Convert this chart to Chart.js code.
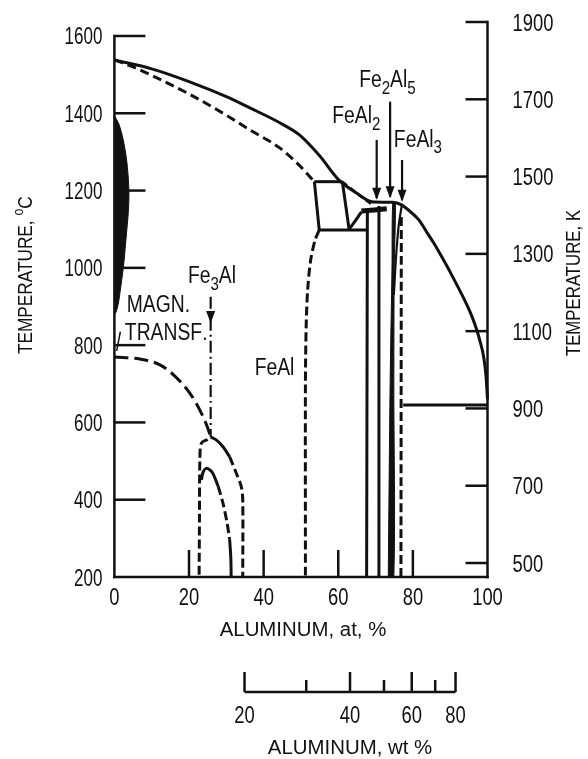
<!DOCTYPE html>
<html><head><meta charset="utf-8">
<script src="https://cdn.jsdelivr.net/npm/chart.js@4.4.0/dist/chart.umd.min.js"></script>
<style>html,body{margin:0;padding:0;background:#fff;}#wrap{width:588px;height:759px;}</style>
</head><body><div id="wrap"><canvas id="c" width="588" height="759"></canvas></div>
<script>
// ---------- tick values ----------
const xTicksAt = [0, 20, 40, 60, 80, 100];          // at.% Al
const yTicksC  = [200, 400, 600, 800, 1000, 1200, 1400, 1600]; // deg C
const yTicksK  = [500, 700, 900, 1100, 1300, 1500, 1700, 1900]; // K
const wtTicks  = [20, 30, 40, 50, 60, 70, 80];       // wt.% Al (log scale)
const wtLabels = [20, 40, 60, 80];

// ---------- phase boundaries: [at.% Al, deg C] ----------
const liquidus = [[0,1538],[10,1515],[20,1482],[30,1443],[36.3,1414],[44.2,1376],[49.6,1344],[55,1290],[60.2,1227],[65,1193],[69,1171],[72,1170],[74.5,1170],[77,1163],[79,1148],[81.6,1124],[84,1088],[86,1058],[88,1024],[90,989],[92,952],[94,914],[95,893],[96,870],[97,843],[98,810],[99,768],[99.6,720],[100,660]];
const solidus = [[0,1538],[5,1520],[10,1498],[20,1450],[30,1395],[36.3,1357],[44.2,1311],[49.6,1265],[53.6,1223]];
const boxTop = [[53.6,1223],[61.1,1223]];
const boxLeft = [[53.6,1223],[54.9,1098]];
const boxBottom = [[54.9,1098],[67.6,1098]];
const boxRight = [[61.1,1223],[62.9,1100]];
const eutectoidDiag = [[62.9,1100],[64.6,1122],[66.2,1145]];
const peritectic = [[66.2,1147],[73,1153]];
const epsSolidus = [[61.1,1223],[63.5,1205],[66,1185],[69.6,1160]];
const feAlBoundary = [[54.9,1098],[53.8,1072],[52.6,1020],[51.8,943],[51.4,850],[51.2,700],[51.2,200]];
const feAl2Line = [[67.6,200],[67.8,1147]];
const fe2Al5Line = [[70.9,200],[70.9,1160]];
const feAl3Band = [[73.4,200],[73.9,700],[74.4,1000],[74.6,1167],[75.3,1166],[75.0,1000],[74.9,700],[74.9,200],[73.4,200]];
const feAl3Edge = [[74.9,930],[75.5,1030],[76.2,1110],[77.0,1160]];
const alSideDashed = [[76.8,200],[76.9,1135]];
const alEutectic = [[77.4,645],[100,645]];
const gammaLoop = [[0,1394],[1.2,1372],[2.3,1334],[3.2,1285],[3.7,1235],[3.9,1190],[3.7,1140],[3.2,1085],[2.5,1010],[1.7,950],[1.0,905],[0.4,885],[0,880],[0,1394]];
const gammaInner = [[0.6,1360],[1.3,1300],[1.7,1200],[1.5,1100],[1.0,1000]];
const magnLine = [[0,769],[6.8,764],[12.2,749],[16.2,720],[20.2,676],[22.9,632],[25,586],[25.8,562]];
const d03Solid = [[25.8,562],[27.3,555],[29.1,537],[30.9,511]];
const d03Dashed = [[30.9,511],[32.7,468],[34.0,434],[34.4,399],[34.4,200]];
const d03Left = [[25.0,556],[23.3,546],[22.9,500],[22.8,350],[22.7,200]];
const archSolid = [[23.3,451],[23.8,472],[24.6,481],[25.6,477],[26.4,468],[27.8,435]];
const archDashed = [[27.8,435],[29.1,391],[30.2,340],[30.9,296]];
const archLow = [[30.9,296],[31.2,250],[31.3,200]];
const fe3AlPointer = [[25.8,925],[25.8,562]];
const feAl2Pointer = [[70.3,1331],[70.3,1180]];
const fe2Al5Pointer = [[73.9,1430],[73.9,1184]];
const feAl3Pointer = [[77.1,1279],[77.1,1175]];

// arrow heads: [at.%, tip deg C]
const arrowHeads = [[25.8,857],[70.3,1176],[73.9,1180],[77.1,1171]];

// annotation labels ('_' = next char subscript), anchors in [at.%, deg C]
const labelText = ['MAGN.', 'TRANSF.', 'Fe_3Al', 'FeAl', 'FeAl_2', 'Fe_2Al_5', 'FeAl_3'];
const labelAnchor = [[3.3,886],[2.8,813],[19.7,960],[37.6,723],[58.4,1375],[65.6,1469],[74.9,1314]];

// ---------- styles ----------
const FAM = '"Liberation Sans",Arial,sans-serif';
const INK = '#111';
const ST = {
  solid:   {borderWidth: 3},
  curve:   {borderWidth: 3, cubicInterpolationMode: 'monotone'},
  thin:    {borderWidth: 2.2},
  thick:   {borderWidth: 5},
  dashed:  {borderWidth: 3, borderDash: [9, 4]},
  dashC:   {borderWidth: 3, borderDash: [9, 5], cubicInterpolationMode: 'monotone'},
  dashS:   {borderWidth: 2.5, borderDash: [6, 4]},
  dashL:   {borderWidth: 3, borderDash: [14, 6], cubicInterpolationMode: 'monotone'},
  dashDot: {borderWidth: 2.2, borderDash: [12, 4, 2, 4]},
  fillShape: {borderWidth: 1, fill: 'shape', backgroundColor: INK},
  white:   {borderWidth: 1.5, borderDash: [5, 4], borderColor: '#fff'}
};
const series = [
  [gammaLoop,'fillShape'],[gammaInner,'white'],
  [liquidus,'curve'],[solidus,'dashC'],
  [boxTop,'solid'],[boxLeft,'solid'],[boxBottom,'solid'],[boxRight,'solid'],
  [eutectoidDiag,'solid'],[peritectic,'thick'],[epsSolidus,'dashS'],
  [feAlBoundary,'dashed'],[feAl2Line,'solid'],[fe2Al5Line,'solid'],
  [feAl3Band,'fillShape'],[feAl3Edge,'thin'],[alSideDashed,'dashed'],[alEutectic,'solid'],
  [magnLine,'dashL'],[d03Solid,'solid'],[d03Dashed,'dashed'],[d03Left,'dashed'],
  [archSolid,'solid'],[archDashed,'dashed'],[archLow,'solid'],
  [fe3AlPointer,'dashDot'],[feAl2Pointer,'thin'],[fe2Al5Pointer,'thin'],[feAl3Pointer,'thin']
];
const datasets = series.map(([pts, st]) => Object.assign({
  data: pts.map(p => ({x: p[0], y: p[1]})),
  showLine: true, pointRadius: 0, borderColor: INK, backgroundColor: INK,
  fill: false, tension: 0.3, clip: false, xAxisID: 'x', yAxisID: 'y'
}, ST[st]));

// draw text horizontally condensed (scan font is narrow)
function txt(ctx, s, x, y, size, align, sx) {
  ctx.save(); ctx.translate(x, y); ctx.scale(sx, 1);
  ctx.font = size + 'px ' + FAM; ctx.textAlign = align; ctx.textBaseline = 'alphabetic';
  ctx.fillText(s, 0, 0); ctx.restore();
}

const decor = {
  id: 'decor',
  afterDraw(chart) {
    const ctx = chart.ctx, xs = chart.scales.x, ys = chart.scales.y, ks = chart.scales.yK, ws = chart.scales.wt;
    const px = v => xs.getPixelForValue(v), py = v => ys.getPixelForValue(v), pk = v => ks.getPixelForValue(v);
    const L = px(0), R = px(100), B = py(200);
    ctx.save();
    ctx.strokeStyle = INK; ctx.fillStyle = INK; ctx.lineWidth = 2.5; ctx.lineCap = 'square';
    const seg = (x1,y1,x2,y2) => { ctx.beginPath(); ctx.moveTo(x1,y1); ctx.lineTo(x2,y2); ctx.stroke(); };
    // axes frame
    seg(L, py(yTicksC[yTicksC.length-1]), L, B);
    seg(L, B, R, B);
    seg(R, pk(yTicksK[yTicksK.length-1]), R, B);
    ctx.lineCap = 'butt';
    yTicksC.slice(1).forEach(v => seg(L, py(v), L + 31, py(v)));
    yTicksK.forEach(v => seg(R - 22, pk(v), R, pk(v)));
    xTicksAt.filter(v => v > 0 && v < 100).forEach(v => seg(px(v), B, px(v), B - 27));
    // tick labels
    yTicksC.forEach(v => txt(ctx, String(v), L - 12, py(v) + 8.5, 23, 'right', 0.74));
    yTicksK.forEach(v => txt(ctx, String(v), R + 25, pk(v) + 8.5, 23, 'left', 0.8));
    xTicksAt.forEach(v => txt(ctx, String(v), px(v), B + 28, 23, 'center', 0.8));
    // arrow heads
    arrowHeads.forEach(([a, t]) => {
      const x = px(a), y = py(t);
      ctx.beginPath(); ctx.moveTo(x, y); ctx.lineTo(x - 4.5, y - 12); ctx.lineTo(x + 4.5, y - 12); ctx.closePath(); ctx.fill();
    });
    // small magnetic-transformation pointer
    ctx.lineWidth = 1.5;
    seg(px(1.6), py(835), px(0.6), py(785));
    // annotation labels
    const chem = (str, x, y, size) => {
      let cx = x;
      for (let i = 0; i < str.length; i++) {
        let ch = str[i], sub = false;
        if (ch === '_') { sub = true; ch = str[++i]; }
        const s = sub ? Math.round(size * 0.78) : size;
        ctx.font = s + 'px ' + FAM;
        const w = ctx.measureText(ch).width * 0.84;
        txt(ctx, ch, cx, sub ? y + size * 0.3 : y, s, 'left', 0.84);
        cx += w;
      }
    };
    labelText.forEach((t, i) => chem(t, px(labelAnchor[i][0]), py(labelAnchor[i][1]), 23));
    // bottom axis title
    txt(ctx, 'ALUMINUM, at, %', 303, 636, 20, 'center', 1.02);
    // wt% secondary axis (log scale)
    const wy = 692, wx = v => ws.getPixelForValue(v);
    ctx.lineWidth = 2.5;
    seg(wx(wtTicks[0]), wy, wx(wtTicks[wtTicks.length-1]), wy);
    wtTicks.forEach(v => {
      const major = wtLabels.includes(v);
      seg(wx(v), wy, wx(v), wy - (major ? 20 : 12));
    });
    wtLabels.forEach(v => txt(ctx, String(v), wx(v), 723, 23, 'center', 0.8));
    txt(ctx, 'ALUMINUM, wt %', 350, 754, 20, 'center', 1.02);
    // left title (rotated) with superscript o
    ctx.save();
    ctx.translate(32, 354); ctx.rotate(-Math.PI / 2);
    const t1 = 'TEMPERATURE, ';
    ctx.font = '21px ' + FAM;
    let w = ctx.measureText(t1).width * 0.82;
    txt(ctx, t1, 0, 0, 21, 'left', 0.82);
    ctx.font = '15px ' + FAM;
    txt(ctx, 'o', w, -9, 15, 'left', 0.82);
    w += ctx.measureText('o').width * 0.82;
    txt(ctx, 'C', w, 0, 21, 'left', 0.82);
    ctx.restore();
    // right title
    ctx.save();
    ctx.translate(580, 283); ctx.rotate(-Math.PI / 2);
    txt(ctx, 'TEMPERATURE, K', 0, 0, 21, 'center', 0.8);
    ctx.restore();
    ctx.restore();
  }
};

new Chart(document.getElementById('c'), {
  type: 'scatter',
  data: { datasets },
  options: {
    responsive: false, animation: false, devicePixelRatio: 1, events: [],
    layout: { padding: { top: 22, left: 0, right: 0, bottom: 0 } },
    plugins: { legend: { display: false }, tooltip: { enabled: false } },
    scales: {
      x: {
        type: 'linear', position: 'bottom', min: 0, max: 100,
        grid: { display: false, drawTicks: false }, border: { display: false },
        afterBuildTicks: s => { s.ticks = xTicksAt.map(v => ({ value: v })); },
        afterFit: s => { s.height = 182; },
        ticks: { display: false }
      },
      wt: { type: 'logarithmic', position: 'bottom', display: false, min: 8.507, max: 98.7 },
      y: {
        type: 'linear', position: 'left', min: 200, max: 1636.2,
        grid: { display: false, drawTicks: false }, border: { display: false },
        afterBuildTicks: s => { s.ticks = yTicksC.map(v => ({ value: v })); },
        afterFit: s => { s.width = 114.4; },
        ticks: { display: false }
      },
      yK: {
        type: 'linear', position: 'right', min: 463.8, max: 1900,
        grid: { display: false, drawTicks: false }, border: { display: false },
        afterBuildTicks: s => { s.ticks = yTicksK.map(v => ({ value: v })); },
        afterFit: s => { s.width = 100.5; },
        ticks: { display: false }
      }
    }
  },
  plugins: [decor]
});
</script>
</body></html>
